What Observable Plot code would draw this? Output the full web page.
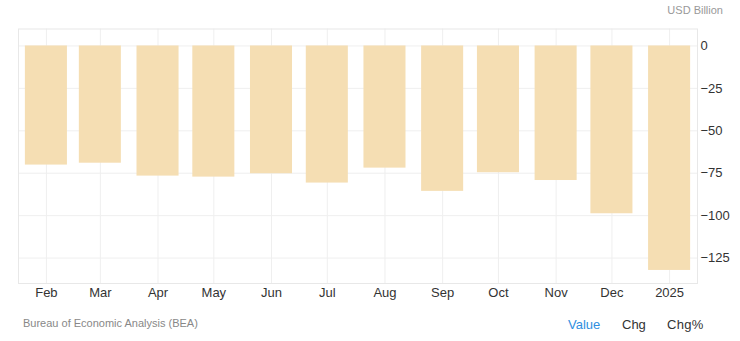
<!DOCTYPE html>
<html>
<head>
<meta charset="utf-8">
<script src="https://cdn.jsdelivr.net/npm/d3@7"></script>
<script src="https://cdn.jsdelivr.net/npm/@observablehq/plot@0.6"></script>
<style>
  html, body { margin: 0; padding: 0; background: #fff; }
  #wrap { position: relative; width: 740px; height: 341px; font-family: "Liberation Sans", Arial, sans-serif; }
  #unit { position: absolute; right: 17px; top: 4px; font-size: 11px; color: #999; }
  #source { position: absolute; left: 23px; top: 317px; font-size: 11px; color: #888; }
  .tab { position: absolute; top: 317px; font-size: 13px; color: #333; white-space: nowrap; }
  svg text { font-family: "Liberation Sans", Arial, sans-serif; }
</style>
</head>
<body>
<div id="wrap">
  <div id="unit">USD Billion</div>
  <div id="source">Bureau of Economic Analysis (BEA)</div>
  <div class="tab" style="left:568px;color:#2f8fe0">Value</div>
  <div class="tab" style="left:622px">Chg</div>
  <div class="tab" style="left:667px;letter-spacing:0.3px">Chg%</div>
</div>
<script>
const months = ["2024-02-01","2024-03-01","2024-04-01","2024-05-01","2024-06-01","2024-07-01","2024-08-01","2024-09-01","2024-10-01","2024-11-01","2024-12-01","2025-01-01"];
const values = [-70.2, -69.1, -76.7, -77.3, -75.3, -80.8, -72.0, -85.7, -74.7, -79.3, -98.9, -132.3];
const tickLabels = ["Feb","Mar","Apr","May","Jun","Jul","Aug","Sep","Oct","Nov","Dec","2025"];
const yTicks = [0, -25, -50, -75, -100, -125];

const halfDays = 11.3;
const day = 864e5;
const data = months.map((m, i) => {
  const d = new Date(m + "T00:00:00Z");
  return {date: d, x1: new Date(+d - halfDays * day), x2: new Date(+d + halfDays * day), value: values[i], label: tickLabels[i]};
});
const labelOf = new Map(data.map(d => [+d.date, d.label]));

const chart = Plot.plot({
  width: 740,
  height: 341,
  marginLeft: 18,
  marginRight: 43,
  marginTop: 28.5,
  marginBottom: 58,
  style: {fontSize: "13px", color: "#333", background: "transparent"},
  x: {type: "utc", domain: [new Date("2024-01-17T00:00:00Z"), new Date("2025-01-16T00:00:00Z")]},
  y: {domain: [-140, 10]},
  marks: [
    Plot.ruleX(data.map(d => d.date), {stroke: "#efefef", strokeWidth: 1}),
    Plot.ruleY(yTicks, {stroke: "#efefef", strokeWidth: 1}),
    Plot.frame({stroke: "#e8e8e8", strokeWidth: 1}),
    Plot.rectY(data, {x1: "x1", x2: "x2", y1: 0, y2: "value", fill: "#f5deb3"}),
    Plot.axisX(data.map(d => d.date), {tickSize: 0, tickPadding: 4, tickFormat: d => labelOf.get(+d), fill: "#333", fontSize: 13, label: null}),
    Plot.axisY(yTicks, {anchor: "right", tickSize: 0, tickPadding: 3, textAnchor: "start", fill: "#333", fontSize: 13, label: null})
  ]
});
chart.style.position = "absolute";
chart.style.left = "0";
chart.style.top = "0";
document.getElementById("wrap").prepend(chart);
</script>
</body>
</html>
